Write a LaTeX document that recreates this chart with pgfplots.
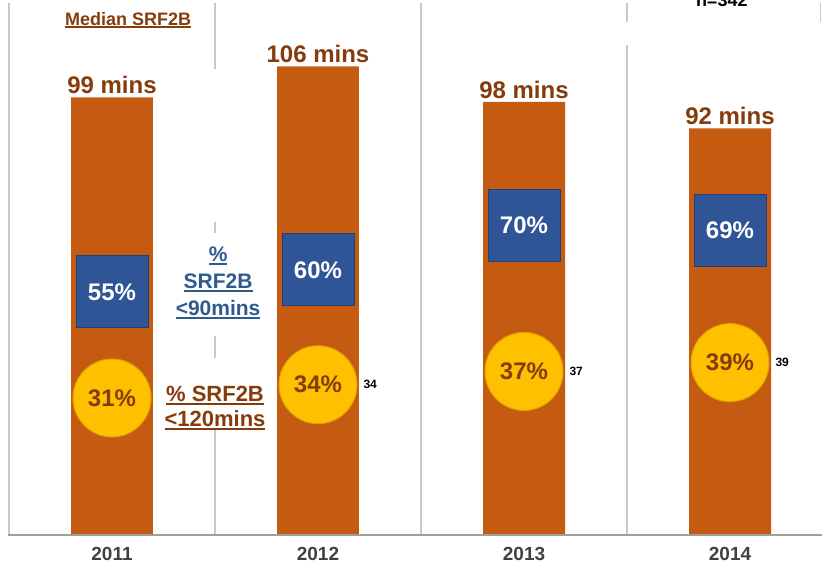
\documentclass[border=0pt]{standalone}
\usepackage{pgfplots}
\pgfplotsset{compat=1.18}
\usepackage{fontspec}
\setmainfont{Liberation Sans}
\definecolor{barc}{HTML}{C55A11}
\definecolor{sqc}{HTML}{2F5597}
\definecolor{sqd}{HTML}{243F73}
\definecolor{circ}{HTML}{FFC000}
\definecolor{cird}{HTML}{E0A200}
\definecolor{brn}{HTML}{843C0C}
\definecolor{blu}{HTML}{2E5B8E}
\definecolor{grd}{HTML}{C8C8C8}
\definecolor{yr}{HTML}{404040}
\newcommand\ul[1]{\setbox0\hbox{#1}\rlap{\rule[-3pt]{\wd0}{1.6pt}}\box0}
\begin{document}
\begin{tikzpicture}
\begin{axis}[
  at={(0,0)}, anchor=south west,
  scale only axis, width=822pt, height=535pt,
  xmin=-0.5437, xmax=3.4466, ymin=0, ymax=121.04,
  /pgf/number format/assume math mode=true,
  axis line style={draw=none},
  hide y axis,
  xtick={0,1,2,3},
  xticklabels={2011,2012,2013,2014},
  major tick length=0pt,
  xtick style={draw=none},
  xticklabel style={font=\fontsize{19}{21}\selectfont\bfseries, text=yr, yshift=-9pt},
  clip=false,
]
% gridlines
\draw[grd, line width=1.3pt] (axis cs:-0.5,0) -- (axis cs:-0.5,120.4);
\draw[grd, line width=1.3pt] (axis cs:0.5,0) -- (axis cs:0.5,24);
\draw[grd, line width=1.3pt] (axis cs:0.5,40) -- (axis cs:0.5,45);
\draw[grd, line width=1.3pt] (axis cs:0.5,68.3) -- (axis cs:0.5,70.8);
\draw[grd, line width=1.3pt] (axis cs:0.5,105.4) -- (axis cs:0.5,120.4);
\draw[grd, line width=1.3pt] (axis cs:1.5,0) -- (axis cs:1.5,120.4);
\draw[grd, line width=1.3pt] (axis cs:2.5,0) -- (axis cs:2.5,110.9);
\draw[grd, line width=1.3pt] (axis cs:2.5,116.1) -- (axis cs:2.5,120.4);
\draw[grd, line width=1.3pt] (axis cs:3.44,116.1) -- (axis cs:3.44,120.4);
% bars
\addplot[ybar, bar width=0.398, fill=barc, draw=none,
  nodes near coords={\pgfmathprintnumber{\pgfplotspointmeta} mins},
  every node near coord/.append style={font=\fontsize{24}{26}\selectfont\bfseries, text=brn, anchor=south}]
  coordinates {(0,99)(1,106)(2,98)(3,92)};
% baseline
\draw[gray!75, line width=2pt] (axis cs:-0.505,0) -- (axis cs:3.4466,0);
% blue squares (% SRF2B < 90 mins)
\addplot[only marks, mark=square*, mark size=36pt,
  mark options={fill=sqc, draw=sqd, line width=1pt},
  nodes near coords={\pgfmathprintnumber{\pgfplotspointmeta}\%},
  every node near coord/.append style={font=\fontsize{24}{26}\selectfont\bfseries, text=white, anchor=center}]
  coordinates {(0,55)(1,60)(2,70)(3,69)};
% yellow circles (% SRF2B < 120 mins)
\addplot[only marks, mark=*, mark size=39pt,
  mark options={fill=circ, draw=cird, line width=1pt},
  nodes near coords={\pgfmathprintnumber{\pgfplotspointmeta}\%},
  every node near coord/.append style={font=\fontsize{24}{26}\selectfont\bfseries, text=brn, anchor=center}]
  coordinates {(0,31)(1,34)(2,37)(3,39)};
% small side labels
\addplot[only marks, mark=none,
  nodes near coords,
  every node near coord/.append style={font=\fontsize{12}{13}\selectfont\bfseries, text=black, anchor=west, xshift=42pt}]
  coordinates {(1,34)(2,37)(3,39)};
% texts
\node[align=center, text=blu, font=\fontsize{21}{27}\selectfont\bfseries] at (axis cs:0.515,57) {\ul{\%}\\\ul{SRF2B}\\\ul{<90mins}};
\node[align=center, text=brn, font=\fontsize{22}{25}\selectfont\bfseries] at (axis cs:0.5,28.7) {\ul{\% SRF2B}\\\ul{<120mins}};
\node[text=brn, font=\fontsize{18}{20}\selectfont\bfseries] at (axis cs:0.078,116.5) {\ul{Median SRF2B}};
\node[anchor=base, font=\fontsize{18}{20}\selectfont\bfseries] at (axis cs:2.96,119.5) {n=342};
\end{axis}
\pgfresetboundingbox
\path[use as bounding box] (0,-34pt) rectangle (822pt,535pt);
\end{tikzpicture}
\end{document}
